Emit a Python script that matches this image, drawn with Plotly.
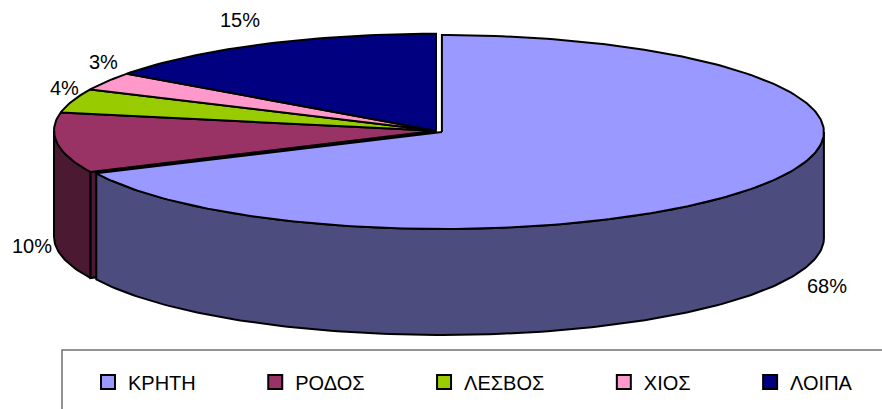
import numpy as np
import plotly.graph_objects as go

# ---------------- data ----------------
categories = ["ΚΡΗΤΗ", "ΡΟΔΟΣ", "ΛΕΣΒΟΣ", "ΧΙΟΣ", "ΛΟΙΠΑ"]
values = [68, 10, 4, 3, 15]
exploded = [True, False, False, False, False]

# ---------------- styles / geometry ----------------
top_colors = ["#9999FF", "#993366", "#99CC00", "#FF99CC", "#000080"]
side_colors = ["#4C4C7F", "#4C1933", "#4C6600", "#7F4C66", "#000040"]
label_offsets = [(63, -4), (-25, -3), (-8, -13), (-4, -19), (-23, -24)]  # px, label nudges

W, H = 882, 409
CX, CY, RX, RY, DEPTH = 436, 130.7, 382, 97, 106
EXPLODE = 7
START = 90
FONT = "Liberation Sans, Arial, sans-serif"
LEGEND_PAD = "\u00a0" * 8 + "\u2002"

total = sum(values)
slices = []
a = START
for i, v in enumerate(values):
    a0 = a
    a1 = a - v / total * 360.0
    a = a1
    mid = (a0 + a1) / 2
    if exploded[i]:
        ox = EXPLODE * np.cos(np.radians(mid))
        oy = -EXPLODE * np.sin(np.radians(mid)) * 0.35
    else:
        ox = oy = 0.0
    slices.append(dict(i=i, a0=a0, a1=a1, mid=mid, cx=CX + ox, cy=CY + oy))


def rim(s, t, dz=0.0):
    t = np.radians(np.asarray(t, dtype=float))
    return s["cx"] + RX * np.cos(t), s["cy"] - RY * np.sin(t) + dz


def arc(s, t0, t1, dz=0.0):
    n = max(2, int(abs(t1 - t0)) + 2)
    ts = np.linspace(t0, t1, n)
    x, y = rim(s, ts, dz)
    return list(x), list(y)


def poly(x, y, color):
    return go.Scatter(x=x + [x[0]], y=y + [y[0]], mode="lines", fill="toself",
                      fillcolor=color, line=dict(color="black", width=2),
                      showlegend=False, hoverinfo="skip")


def top_face(s):
    ax, ay = arc(s, s["a0"], s["a1"])
    return [s["cx"]] + ax, [s["cy"]] + ay


def wall_parts(s):
    parts = []
    for k in (0, 1):
        lo, hi = -180 - 360 * k, -360 * k
        t_lo, t_hi = max(s["a1"], lo), min(s["a0"], hi)
        if t_hi - t_lo > 0.01:
            tx, ty = arc(s, t_hi, t_lo)
            bx, by = arc(s, t_lo, t_hi, DEPTH)
            parts.append((tx + bx, ty + by))
    return parts


def radial_face(s, t):
    rx_, ry_ = rim(s, t)
    rx_, ry_ = float(rx_), float(ry_)
    return ([s["cx"], rx_, rx_, s["cx"]],
            [s["cy"], ry_, ry_ + DEPTH, s["cy"] + DEPTH])


n = len(slices)
fig = go.Figure()

for group in ([s for s in slices if not exploded[s["i"]]],
              [s for s in slices if exploded[s["i"]]]):
    # radial faces
    for s in group:
        i = s["i"]
        if np.cos(np.radians(s["a0"])) < -1e-6 and (exploded[i] or exploded[(i - 1) % n]):
            fx, fy = radial_face(s, s["a0"])
            fig.add_trace(poly(fx, fy, side_colors[i]))
        if np.cos(np.radians(s["a1"])) > 1e-6 and (exploded[i] or exploded[(i + 1) % n]):
            fx, fy = radial_face(s, s["a1"])
            fig.add_trace(poly(fx, fy, side_colors[i]))
    # outer walls
    for s in group:
        for wx, wy in wall_parts(s):
            fig.add_trace(poly(wx, wy, side_colors[s["i"]]))
    # top faces
    for s in group:
        tx, ty = top_face(s)
        fig.add_trace(poly(tx, ty, top_colors[s["i"]]))

# legend entries
for i, c in enumerate(categories):
    pad = LEGEND_PAD if i < len(categories) - 1 else ""
    fig.add_trace(go.Scatter(
        x=[None], y=[None], mode="markers", name=c + pad,
        marker=dict(symbol="square", size=14, color=top_colors[i],
                    line=dict(color="black", width=2)),
        showlegend=True, hoverinfo="skip"))

# percentage labels
for s in slices:
    i = s["i"]
    bx, by = rim(s, s["mid"])
    bx, by = float(bx), float(by)
    if np.sin(np.radians(s["mid"])) < 0:
        by += DEPTH
    pct = round(values[i] / total * 100)
    fig.add_annotation(x=bx + label_offsets[i][0], y=by + label_offsets[i][1],
                       text=f"{pct}%", showarrow=False, xanchor="center", yanchor="middle",
                       font=dict(family=FONT, size=20, color="black"))

# legend frame
fig.add_shape(type="rect", xref="x", yref="y", x0=62, y0=350, x1=W + 20, y1=H + 20,
              line=dict(color="#707070", width=1.5), fillcolor="rgba(0,0,0,0)", layer="below")

fig.update_layout(
    width=W, height=H,
    margin=dict(l=0, r=0, t=0, b=0),
    paper_bgcolor="white", plot_bgcolor="white",
    xaxis=dict(range=[0, W], visible=False, fixedrange=True),
    yaxis=dict(range=[H, 0], visible=False, fixedrange=True),
    showlegend=True,
    hovermode=False,
    legend=dict(orientation="h", x=88 / W, y=1 - 382 / H, xanchor="left", yanchor="middle",
                font=dict(family=FONT, size=20, color="black"),
                bgcolor="rgba(0,0,0,0)", borderwidth=0, traceorder="normal"),
)

fig.write_html("out.html", config={"displayModeBar": False},
               post_script="document.body.style.margin='0';document.body.style.padding='0';")
